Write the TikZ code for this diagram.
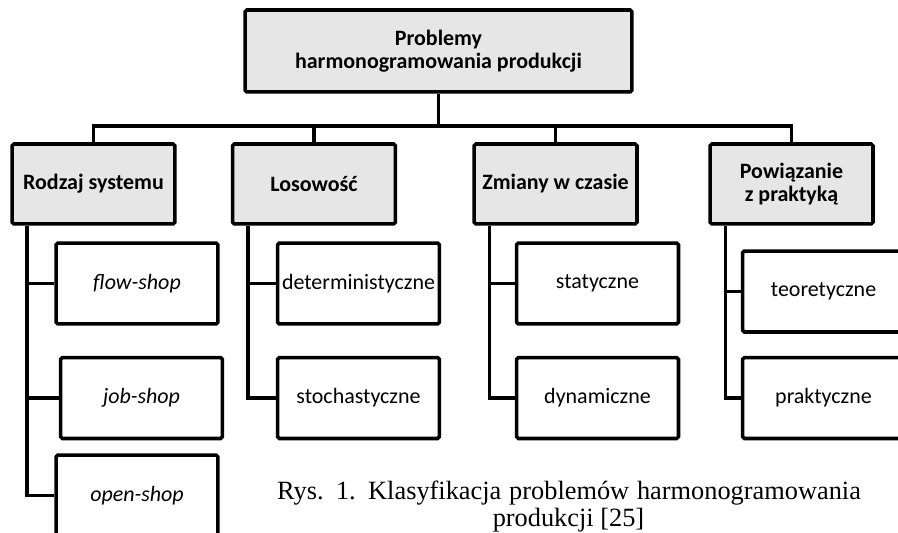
\documentclass[tikz,border=0pt]{standalone}
\usepackage{fontspec}
\setmainfont{Liberation Serif}
\newfontfamily\boxfont{Carlito}
\usepackage{xcolor}
\definecolor{boxgray}{HTML}{E6E6E6}

\begin{document}
\begin{tikzpicture}[x=0.02cm, y=-0.02cm, line width=2pt, line join=miter,
  rootbox/.style={draw, fill=boxgray, rounded corners=1pt, align=center,
    font=\boxfont\fontsize{12.5}{13}\selectfont\bfseries,
    minimum width=7.74cm, minimum height=1.64cm, inner sep=0pt},
  catbox/.style={draw, fill=boxgray, rounded corners=1pt, align=center,
    font=\boxfont\fontsize{12.5}{13.5}\selectfont\bfseries,
    minimum width=3.26cm, minimum height=1.6cm, inner sep=0pt},
  leafbox/.style={draw, fill=white, rounded corners=1pt, align=center,
    font=\boxfont\fontsize{12.5}{14}\selectfont,
    minimum width=3.24cm, minimum height=1.62cm, inner sep=0pt}]
  \useasboundingbox (0,0) rectangle (898,533);
  \clip (0,0) rectangle (898,533);

  \node[rootbox] (root) at (438.5,51) {Problemy\\harmonogramowania produkcji};

  \node[catbox] (rodzaj) at (93.5,184) {Rodzaj systemu};
  \node[catbox] (losowosc) at (314,184) {Losowość};
  \node[catbox] (zmiany) at (555.5,184) {Zmiany w czasie};
  \node[catbox] (powiazanie) at (791.5,184) {Powiązanie\\z praktyką};

  \node[leafbox] (flow) at (137,283.5) {\itshape flow-shop};
  \node[leafbox] (job) at (141.5,398) {\itshape job-shop};
  \node[leafbox] (open) at (137,495.5) {\itshape open-shop};
  \node[leafbox] (determ) at (358.5,283.5) {deterministyczne};
  \node[leafbox] (stoch) at (358.5,398) {stochastyczne};
  \node[leafbox] (statyczne) at (597.5,283.5) {statyczne};
  \node[leafbox] (dynamiczne) at (597.5,398) {dynamiczne};
  \node[leafbox] (teoret) at (823.5,291.5) {teoretyczne};
  \node[leafbox] (prakt) at (823.5,398) {praktyczne};

  % top level
  \coordinate (bar) at (440,126);
  \draw (root.south) -- (root.south |- bar);
  \draw (rodzaj.north) -- (rodzaj.north |- bar) -| (powiazanie.north);
  \draw (losowosc.north) -- (losowosc.north |- bar);
  \draw (zmiany.north) -- (zmiany.north |- bar);

  % branches
  \draw ([xshift=0.34cm]rodzaj.south west) coordinate (rt) |- (open.west);
  \draw (rt |- flow.west) -- (flow.west);
  \draw (rt |- job.west) -- (job.west);
  \draw ([xshift=0.34cm]losowosc.south west) coordinate (lt) |- (stoch.west);
  \draw (lt |- determ.west) -- (determ.west);
  \draw ([xshift=0.34cm]zmiany.south west) coordinate (zt) |- (dynamiczne.west);
  \draw (zt |- statyczne.west) -- (statyczne.west);
  \draw ([xshift=0.34cm]powiazanie.south west) coordinate (pt) |- (prakt.west);
  \draw (pt |- teoret.west) -- (teoret.west);

  % caption
  \node[anchor=base, inner sep=0pt, font=\fontsize{15}{17}\selectfont] (cap1) at (569,499)
    {\makebox[11.68cm][s]{Rys. 1. Klasyfikacja problemów harmonogramowania}};
  \node[anchor=base, inner sep=0pt, font=\fontsize{15}{17}\selectfont] (cap2) at (568.5,526)
    {produkcji [25]};
\end{tikzpicture}
\end{document}
